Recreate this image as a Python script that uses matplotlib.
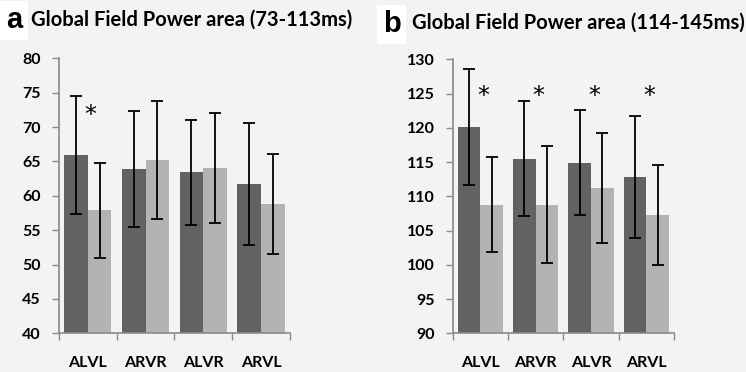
"""Global Field Power area bar charts (panels a and b)."""

import matplotlib

matplotlib.use("Agg")
import matplotlib.pyplot as plt
import numpy as np

categories = ["ALVL", "ARVR", "ALVR", "ARVL"]

# panel a: 73-113 ms
a_dark = [65.9, 63.9, 63.4, 61.7]
a_dark_err = [8.6, 8.4, 7.7, 8.9]
a_light = [57.9, 65.2, 64.1, 58.8]
a_light_err = [6.9, 8.6, 8.0, 7.3]
a_stars = [0]

# panel b: 114-145 ms
b_dark = [120.1, 115.5, 114.9, 112.8]
b_dark_err = [8.5, 8.4, 7.7, 8.9]
b_light = [108.8, 108.8, 111.2, 107.2]
b_light_err = [6.9, 8.6, 8.0, 7.3]
b_stars = [0, 1, 2, 3]

DARK = "#626262"
LIGHT = "#b3b3b3"
SPINE = "#8a8a8a"
FONT = ["Lato", "DejaVu Sans"]
BAR_W = 0.41


def draw_panel(fig, rect, dark, dark_err, light, light_err, stars, ylim, step, star_y):
    ax = fig.add_axes(rect)
    ax.set_facecolor("none")
    x = np.arange(len(categories))
    err_kw = dict(ecolor="black", elinewidth=1.3, capsize=4.5, capthick=1.3)
    ax.bar(x - BAR_W / 2, dark, BAR_W, color=DARK, yerr=dark_err, error_kw=err_kw, zorder=2)
    ax.bar(x + BAR_W / 2, light, BAR_W, color=LIGHT, yerr=light_err, error_kw=err_kw, zorder=2)
    for i in stars:
        ax.text(x[i] + 0.05, star_y, "*", ha="center", va="center",
                fontsize=17, color="black", family=["DejaVu Sans"])

    ax.set_xlim(-0.5, len(categories) - 0.5)
    ax.set_ylim(*ylim)
    ax.set_yticks(np.arange(ylim[0], ylim[1] + 0.1, step))
    ax.set_xticks(np.arange(-0.5, len(categories)))
    ax.set_xticklabels([])
    ax.set_xticks(x, minor=True)
    ax.set_xticklabels(categories, minor=True)
    ax.tick_params(axis="x", which="major", length=5, color=SPINE, width=1)
    ax.tick_params(axis="x", which="minor", length=0, pad=16)
    ax.tick_params(axis="y", length=5, color=SPINE, width=1, pad=8)
    for lab in ax.get_yticklabels() + ax.get_xticklabels(minor=True):
        lab.set_fontfamily(FONT)
        lab.set_fontweight("bold")
        lab.set_fontsize(11.5)
    for side in ("top", "right"):
        ax.spines[side].set_visible(False)
    for side in ("left", "bottom"):
        ax.spines[side].set_color(SPINE)
        ax.spines[side].set_linewidth(1.2)
    return ax


fig = plt.figure(figsize=(7.46, 3.72), dpi=100, facecolor="#f3f3f3")

draw_panel(fig, [0.0790, 0.104, 0.3097, 0.739], a_dark, a_dark_err, a_light, a_light_err,
           a_stars, (40, 80), 5, 71.8)
draw_panel(fig, [0.607, 0.104, 0.2966, 0.7366], b_dark, b_dark_err, b_light, b_light_err,
           b_stars, (90, 130), 5, 124.6)

for lx, ly, tx, ty, letter, title in [
    (0.008, 0.924, 0.042, 0.931, "a", "Global Field Power area (73-113ms)"),
    (0.513, 0.913, 0.552, 0.924, "b", "Global Field Power area (114-145ms)"),
]:
    fig.text(lx, ly, letter, fontsize=21, fontweight="bold", family=["Liberation Sans"],
             va="baseline", ha="left",
             bbox=dict(facecolor="white", edgecolor="none", pad=4))
    fig.text(tx, ty, title, fontsize=14.5, fontweight="bold", family=FONT,
             va="baseline", ha="left")

fig.savefig("out.png", dpi=100, facecolor=fig.get_facecolor())
